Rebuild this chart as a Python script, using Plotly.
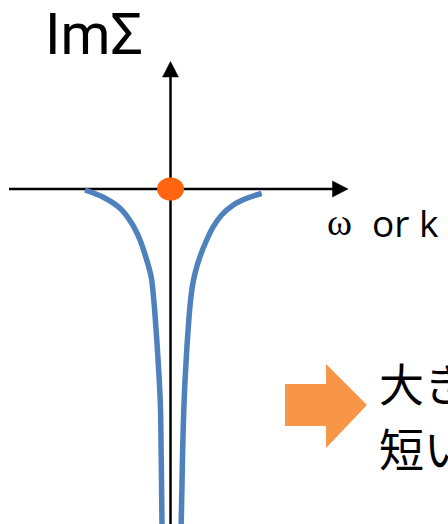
import plotly.graph_objects as go

# Curve samples (x = ω or k, y = ImΣ), origin at axis crossing
left_x = [-85.5, -67.2, -50.5, -38.8, -30.5, -23.8, -19.3, -16.8, -15.2, -13.1, -11.3, -10.0, -9.4, -8.9, -8.4]
left_y = [-1, -8.3, -19.3, -34.3, -51, -71, -88, -110, -130, -160, -190, -220, -260, -300, -345]
right_x = [91.2, 76.2, 62.8, 51.2, 42.8, 36.2, 29.5, 24.5, 21.8, 20.0, 18.4, 16.3, 14.6, 13.3, 12.2, 11.4, 10.5]
right_y = [-4.3, -9.3, -16, -26, -37.7, -51, -67.7, -84.3, -97.7, -112, -130, -160, -190, -220, -260, -300, -345]

# Point at the origin
dot_x = [0]
dot_y = [0]

# Labels
y_label = "ImΣ"
x_label_symbol = "ω"
x_label_rest = "or k"
note_line1 = "大きな散乱"
note_line2 = "短い寿命"

BLUE = "#4F81BD"
DOT = "#FF6410"
ARROW = "#F79646"

# Plot window in data units
x_range = [-170.5, 277.5]
y_range = [-335, 189]

# Axis geometry
h_axis = dict(x0=-161.5, x1=163, tip=177.5, half=8)
v_axis = dict(y0=-340, y1=113, tip=127.5, half=8)

fig = go.Figure()

# axes lines
fig.add_trace(go.Scatter(x=[h_axis["x0"], h_axis["x1"]], y=[0, 0], mode="lines",
                         line=dict(color="black", width=2.5), hoverinfo="skip", showlegend=False))
fig.add_trace(go.Scatter(x=[0, 0], y=[v_axis["y0"], v_axis["y1"]], mode="lines",
                         line=dict(color="black", width=2.5), hoverinfo="skip", showlegend=False))
# arrowheads
fig.add_trace(go.Scatter(x=[h_axis["x1"] - 1, h_axis["tip"], h_axis["x1"] - 1, h_axis["x1"] - 1],
                         y=[h_axis["half"], 0, -h_axis["half"], h_axis["half"]],
                         mode="lines", fill="toself", fillcolor="black", line=dict(color="black", width=0.5),
                         hoverinfo="skip", showlegend=False))
fig.add_trace(go.Scatter(x=[-v_axis["half"], 0, v_axis["half"], -v_axis["half"]],
                         y=[v_axis["y1"] - 1, v_axis["tip"], v_axis["y1"] - 1, v_axis["y1"] - 1],
                         mode="lines", fill="toself", fillcolor="black", line=dict(color="black", width=0.5),
                         hoverinfo="skip", showlegend=False))

# curves
fig.add_trace(go.Scatter(x=left_x, y=left_y, mode="lines", line=dict(color=BLUE, width=5.5, shape="spline", smoothing=1),
                         hoverinfo="skip", showlegend=False))
fig.add_trace(go.Scatter(x=right_x, y=right_y, mode="lines", line=dict(color=BLUE, width=5.5, shape="spline", smoothing=1),
                         hoverinfo="skip", showlegend=False))

# orange dot (ellipse)
fig.add_shape(type="circle", xref="x", yref="y", x0=dot_x[0] - 13.5, x1=dot_x[0] + 13.5,
              y0=dot_y[0] - 11.5, y1=dot_y[0] + 11.5, fillcolor=DOT, line=dict(width=0), layer="above")

# orange block arrow
ax0, ax1, axt = 114.5, 155.5, 196.5
ry0, ry1, hy0, hy1, ty = -195, -237, -175, -259, -216
fig.add_shape(type="path", xref="x", yref="y",
              path=f"M {ax0} {ry0} L {ax1} {ry0} L {ax1} {hy0} L {axt} {ty} L {ax1} {hy1} L {ax1} {ry1} L {ax0} {ry1} Z",
              fillcolor=ARROW, line=dict(width=0), layer="above")

fig.add_annotation(x=-127, y=1, xref="x", yref="paper", text=y_label, showarrow=False, borderpad=0,
                   xanchor="left", yanchor="top", font=dict(family="Roboto", size=57, color="black"))
fig.add_annotation(x=155.5, y=-33, xref="x", yref="y", text=x_label_symbol, showarrow=False, borderpad=0,
                   xanchor="left", yanchor="middle", font=dict(family="Liberation Serif", size=38, color="black"))
fig.add_annotation(x=200.5, y=-33, xref="x", yref="y", text=x_label_rest, showarrow=False, borderpad=0,
                   xanchor="left", yanchor="middle", font=dict(family="Open Sans", size=37, color="black"))
fig.add_annotation(x=206.5, y=-193, xref="x", yref="y", text=note_line1, showarrow=False,
                   xanchor="left", yanchor="middle", font=dict(family="Noto Sans CJK JP", size=45, color="black"))
fig.add_annotation(x=206.5, y=-258, xref="x", yref="y", text=note_line2, showarrow=False,
                   xanchor="left", yanchor="middle", font=dict(family="Noto Sans CJK JP", size=45, color="black"))

fig.update_xaxes(range=x_range, visible=False, fixedrange=True)
fig.update_yaxes(range=y_range, visible=False, fixedrange=True)
fig.update_layout(width=448, height=524, margin=dict(l=0, r=0, t=0, b=0),
                  plot_bgcolor="white", paper_bgcolor="white", showlegend=False)

fig.write_html("out.html", config={"displayModeBar": False},
               post_script="document.body.style.margin='0';document.body.style.overflow='hidden';")
